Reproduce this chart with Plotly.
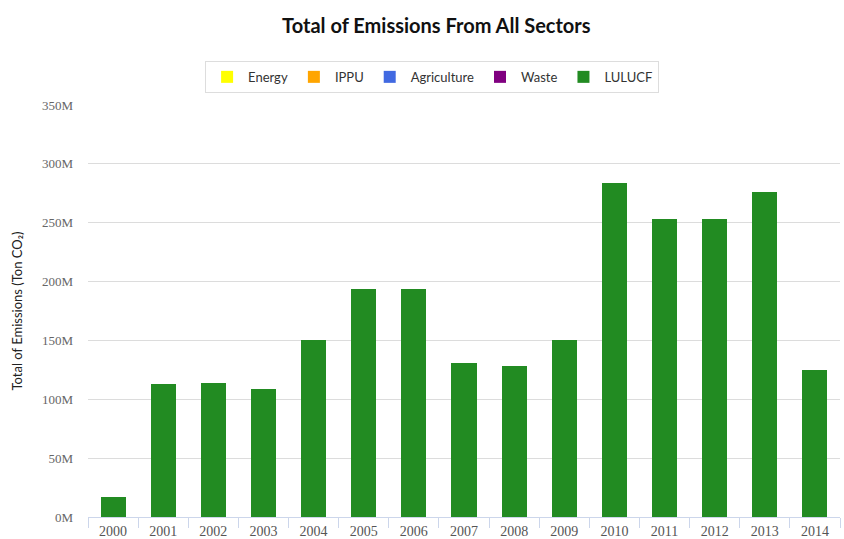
import plotly.graph_objects as go

years = ["2000", "2001", "2002", "2003", "2004", "2005", "2006", "2007",
         "2008", "2009", "2010", "2011", "2012", "2013", "2014"]
energy = [0] * 15
ippu = [0] * 15
agriculture = [0] * 15
waste = [0] * 15
lulucf = [17e6, 113e6, 114e6, 109e6, 150e6, 194e6, 194e6, 131e6,
          128e6, 150e6, 284e6, 253e6, 253e6, 276e6, 125e6]

series = [
    ("Energy", energy, "#FFFF00"),
    ("IPPU", ippu, "#FFA500"),
    ("Agriculture", agriculture, "#4169E1"),
    ("Waste", waste, "#800080"),
    ("LULUCF", lulucf, "#228B22"),
]

tick_vals = [0, 50e6, 100e6, 150e6, 200e6, 250e6, 300e6, 350e6]
tick_text = ["0M", "50M", "100M", "150M", "200M", "250M", "300M", "350M"]

fig = go.Figure()
for name, vals, color in series:
    fig.add_trace(go.Bar(x=years, y=vals, name=name, marker_color=color,
                         marker_line_width=0))

fig.update_layout(
    width=844, height=539,
    barmode="stack", bargap=0.5,
    paper_bgcolor="white", plot_bgcolor="white",
    margin=dict(l=88, r=4, t=105, b=22),
    title=dict(text="<b>Total of Emissions From All Sectors</b>",
               font=dict(family="Lato", size=20, color="#111"),
               x=0.517, xanchor="center", y=0.952, yanchor="middle",
               xref="container", yref="container"),
    legend=dict(orientation="h", xref="container", yref="container",
                x=0.243, xanchor="left", y=0.887, yanchor="top",
                bordercolor="#dddddd", borderwidth=1,
                font=dict(family="Lato", size=13, color="#333"),
                itemwidth=32,
                traceorder="normal"),
    showlegend=True,
)
fig.update_xaxes(
    type="category", tickson="boundaries", ticks="outside", ticklen=10,
    tickcolor="#ccd6eb", showline=True, linecolor="#ccd6eb", linewidth=1,
    tickfont=dict(family="Liberation Serif", size=14, color="#555"),
    ticklabelstandoff=1, automargin=False,
    showgrid=False,
)
fig.update_yaxes(
    range=[0, 350e6], tickvals=tick_vals, ticktext=tick_text,
    tickfont=dict(family="Liberation Serif", size=13, color="#666"),
    gridcolor="#dcdcdc", gridwidth=1, zeroline=False, ticklabelstandoff=14,
    automargin=False,
    title=dict(text="Total of Emissions (Ton CO₂)",
               font=dict(family="Lato", size=13, color="#222"), standoff=16),
)

fig.write_html("out.html")
